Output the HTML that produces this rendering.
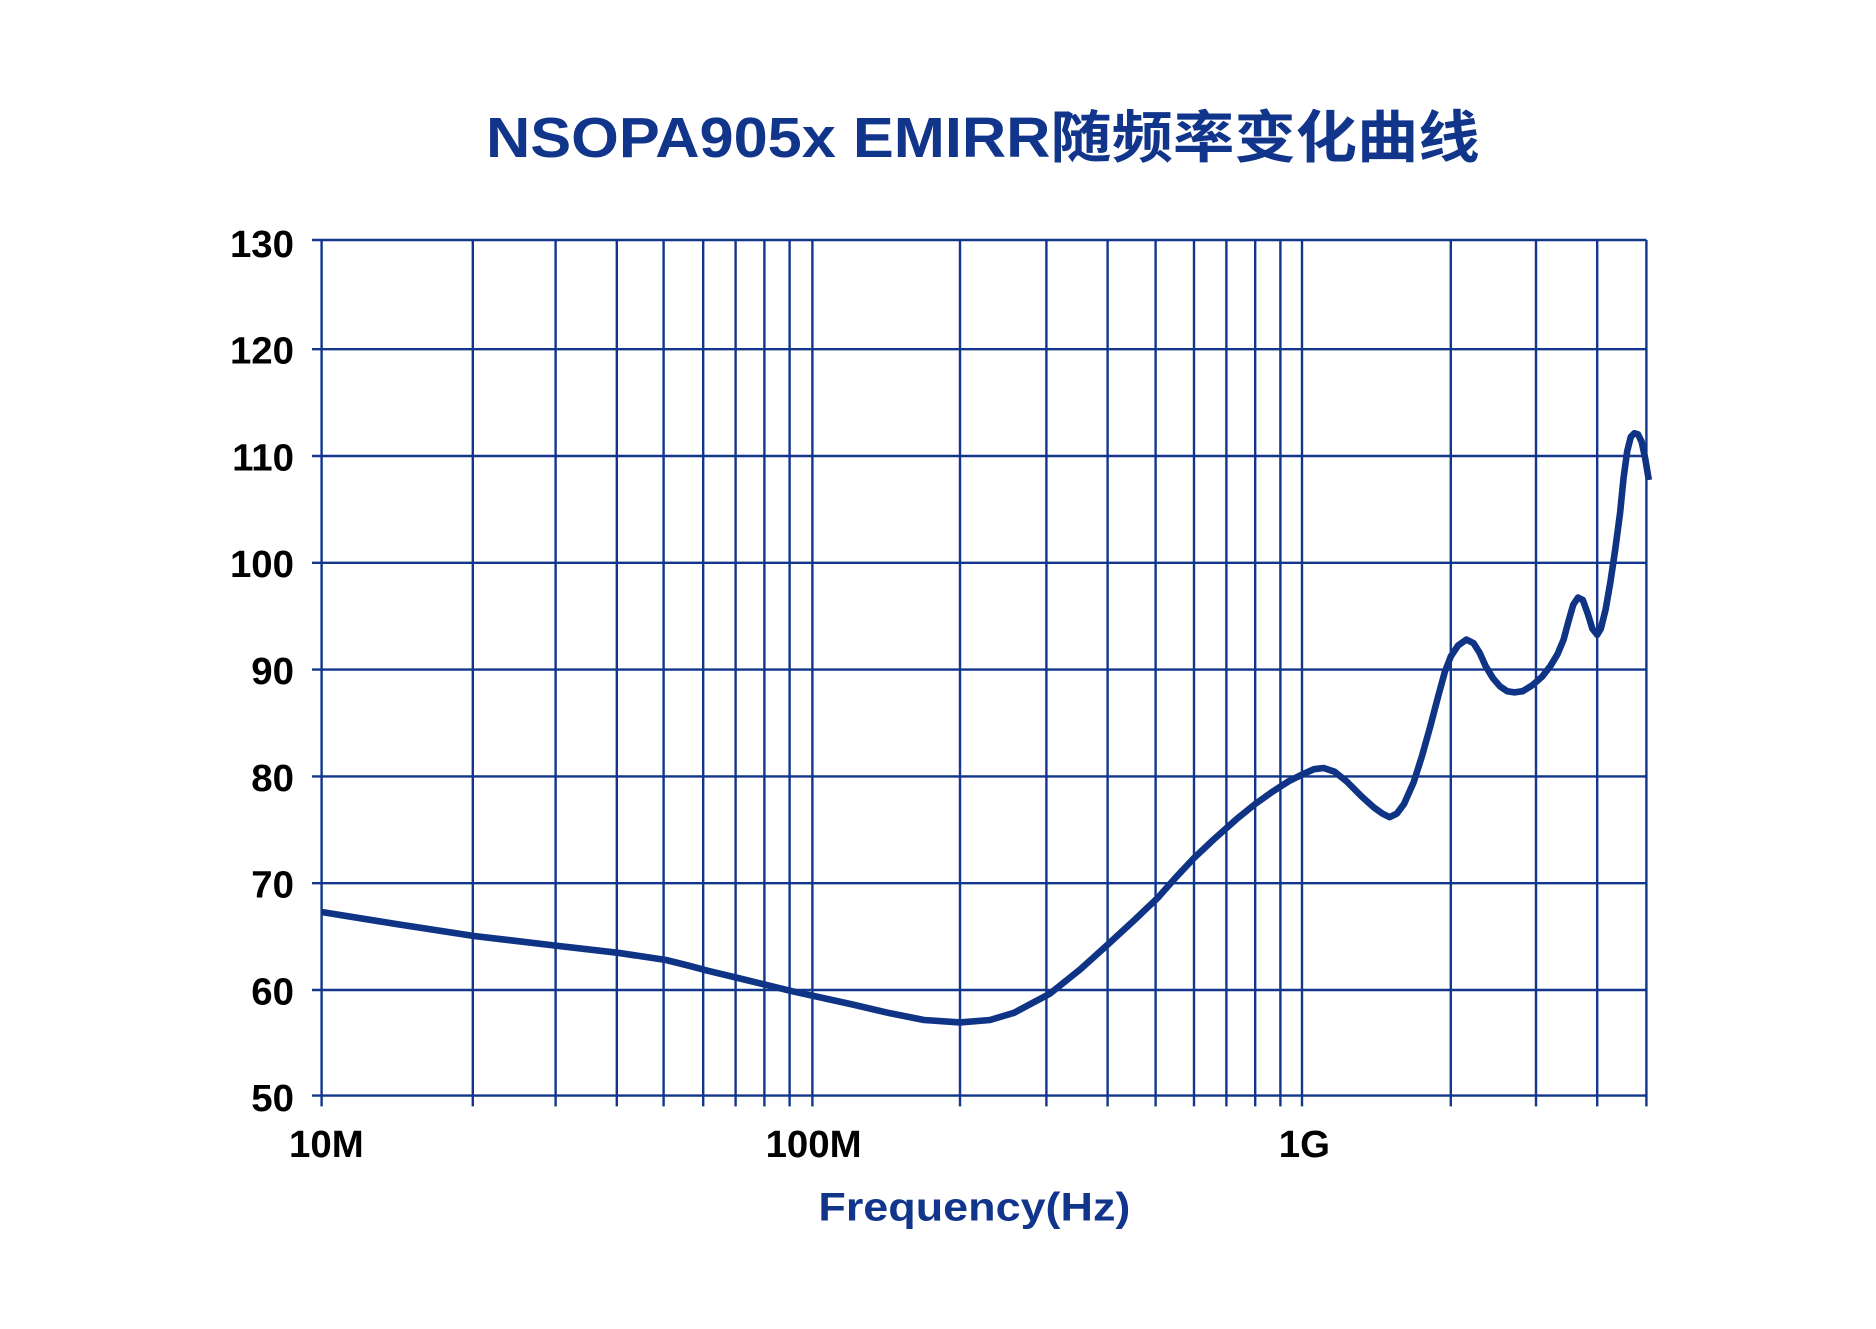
<!DOCTYPE html>
<html><head><meta charset="utf-8"><style>
html,body{margin:0;padding:0;background:#fff;}
svg{display:block}
</style></head><body>
<svg width="1876" height="1329" viewBox="0 0 1563.33 1107.5" xmlns="http://www.w3.org/2000/svg">
<rect width="1563.33" height="1107.5" fill="#fff"/>
<text x="405" y="131" textLength="828" lengthAdjust="spacingAndGlyphs" font-family="Liberation Sans, 'Noto Sans CJK SC', sans-serif" font-weight="bold" font-size="47" fill="#11358a">NSOPA905x EMIRR随频率变化曲线</text>
<g stroke="#12368c" stroke-width="2" fill="none">
<line x1="260" y1="200" x2="1372" y2="200"/>
<line x1="260" y1="291" x2="1372" y2="291"/>
<line x1="260" y1="380" x2="1372" y2="380"/>
<line x1="260" y1="469" x2="1372" y2="469"/>
<line x1="260" y1="558" x2="1372" y2="558"/>
<line x1="260" y1="647" x2="1372" y2="647"/>
<line x1="260" y1="736" x2="1372" y2="736"/>
<line x1="260" y1="825" x2="1372" y2="825"/>
<line x1="260" y1="913" x2="1372" y2="913"/>
<line x1="268" y1="200" x2="268" y2="922"/>
<line x1="394" y1="200" x2="394" y2="922"/>
<line x1="463" y1="200" x2="463" y2="922"/>
<line x1="514" y1="200" x2="514" y2="922"/>
<line x1="553" y1="200" x2="553" y2="922"/>
<line x1="586" y1="200" x2="586" y2="922"/>
<line x1="613" y1="200" x2="613" y2="922"/>
<line x1="637" y1="200" x2="637" y2="922"/>
<line x1="658" y1="200" x2="658" y2="922"/>
<line x1="677" y1="200" x2="677" y2="922"/>
<line x1="800" y1="200" x2="800" y2="922"/>
<line x1="872" y1="200" x2="872" y2="922"/>
<line x1="923" y1="200" x2="923" y2="922"/>
<line x1="963" y1="200" x2="963" y2="922"/>
<line x1="995" y1="200" x2="995" y2="922"/>
<line x1="1022" y1="200" x2="1022" y2="922"/>
<line x1="1046" y1="200" x2="1046" y2="922"/>
<line x1="1067" y1="200" x2="1067" y2="922"/>
<line x1="1085" y1="200" x2="1085" y2="922"/>
<line x1="1209" y1="200" x2="1209" y2="922"/>
<line x1="1280" y1="200" x2="1280" y2="922"/>
<line x1="1331" y1="200" x2="1331" y2="922"/>
<line x1="1372" y1="200" x2="1372" y2="922"/>
</g>
<g font-family="Liberation Sans, sans-serif" font-weight="bold" font-size="32" fill="#000" text-anchor="end">
<text x="245" y="214">130</text>
<text x="245" y="303">120</text>
<text x="245" y="392">110</text>
<text x="245" y="481">100</text>
<text x="245" y="570">90</text>
<text x="245" y="659">80</text>
<text x="245" y="748">70</text>
<text x="245" y="837">60</text>
<text x="245" y="926">50</text>
</g>
<g font-family="Liberation Sans, sans-serif" font-weight="bold" font-size="32" fill="#000" text-anchor="middle">
<text x="272" y="964">10M</text>
<text x="678" y="964">100M</text>
<text x="1087" y="964">1G</text>
</g>
<text x="682" y="1017" textLength="260" lengthAdjust="spacingAndGlyphs" font-family="Liberation Sans, sans-serif" font-weight="bold" font-size="33" fill="#11358a">Frequency(Hz)</text>
<polyline fill="none" stroke="#0f3486" stroke-width="5.5" stroke-linejoin="round" stroke-linecap="butt"
points="268,760 330,770 395,780 463,788 515,794 555,800 575,805 590,809 615,815 660,826 710,837 740,844 770,850 800,852 825,850 845,844 860,836 875,828 900,808 920,790 945,767 965,748 980,731 995,715 1012,699 1030,683 1046,670 1060,660 1074,651 1086,645 1095,641 1103,640 1112,643 1122,651 1135,664 1145,673 1152,678 1158,681 1164,678 1170,670 1178,652 1185,630 1192,605 1198,582 1204,560 1209,547 1215,538 1222,533 1228,536 1233,544 1238,555 1244,565 1250,572 1256,576 1262,577 1269,576 1277,571 1285,564 1292,555 1298,545 1303,533 1307,518 1311,504 1315,498 1319,500 1323,511 1327,524 1331,529 1334,524 1338,508 1342,485 1346,458 1350,428 1353,398 1356,376 1359,364 1362,361 1365,362 1368,368 1371,382 1374,400"/>
</svg>
</body></html>
